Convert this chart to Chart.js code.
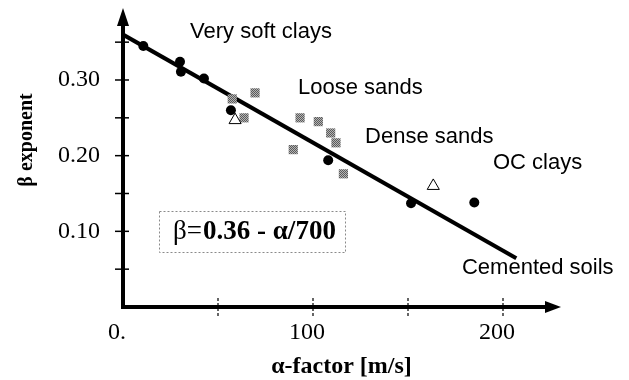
<!DOCTYPE html>
<html>
<head>
<meta charset="utf-8">
<script src="https://cdn.jsdelivr.net/npm/chart.js@4.4.1/dist/chart.umd.min.js"></script>
<style>
  html, body { margin: 0; padding: 0; background: #fff; }
  #wrap { width: 629px; height: 380px; }
</style>
</head>
<body>
<div id="wrap"><canvas id="c" width="629" height="380"></canvas></div>
<script>
// Measured β exponent against α-factor for several soil groups
const circleAlpha = [10.7, 30.0, 30.5, 42.6, 56.8, 108.0, 151.6, 184.9];
const circleBeta  = [0.345, 0.324, 0.311, 0.302, 0.260, 0.194, 0.137, 0.138];

const squareAlpha = [57.5, 69.5, 63.7, 89.6, 93.2, 102.8, 109.3, 112.1, 116.0];
const squareBeta  = [0.275, 0.283, 0.250, 0.208, 0.250, 0.245, 0.230, 0.217, 0.176];

const triangleAlpha = [59.0, 163.3];
const triangleBeta  = [0.247, 0.160];

// Fitted relation β = 0.36 - α/700
const fitIntercept = 0.36;
const fitDivisor = 700;
const fitAlpha = [0, 207];
const fitBeta = fitAlpha.map(a => fitIntercept - a / fitDivisor);

// Axis ticks
const xTickValues = [0, 100, 200];
const xTickLabels = ['0.', '100', '200'];
const xMarkValues = [50, 100, 150, 200];
const yTickValues = [0.10, 0.20, 0.30];
const yTickLabels = ['0.10', '0.20', '0.30'];
const yMarkValues = [0.05, 0.10, 0.15, 0.20, 0.25, 0.30, 0.35];

// Soil group captions (anchored in data units: left edge, vertical centre)
const groupNames = ['Very soft clays', 'Loose sands', 'Dense sands', 'OC clays', 'Cemented soils'];
const groupAlpha = [35.3, 92.1, 127.4, 194.7, 178.4];
const groupBeta  = [0.363, 0.289, 0.225, 0.190, 0.052];

const SERIF = '"Liberation Serif", "Times New Roman", serif';
const SANS = '"Liberation Sans", Arial, sans-serif';

function pts(xs, ys) { return xs.map((x, i) => ({ x: x, y: ys[i] })); }

// Speckled grey fill for the sand markers
function speckle() {
  const c = document.createElement('canvas');
  c.width = 2; c.height = 2;
  const g = c.getContext('2d');
  g.fillStyle = '#b4b4b4'; g.fillRect(0, 0, 2, 2);
  g.fillStyle = '#5a5a5a'; g.fillRect(0, 0, 1, 1); g.fillRect(1, 1, 1, 1);
  return document.getElementById('c').getContext('2d').createPattern(c, 'repeat');
}

// keep the plot area exactly where the layout padding puts it
function noEdgePadding(s) {
  s.paddingTop = 0; s.paddingBottom = 0; s.paddingLeft = 0; s.paddingRight = 0;
}

const axesPlugin = {
  id: 'axesAndNotes',
  afterDatasetsDraw(chart) {
    const { ctx, scales: { x, y } } = chart;
    const x0 = x.getPixelForValue(0);
    const y0 = y.getPixelForValue(0);
    const xEnd = chart.chartArea.right;
    const yTop = chart.chartArea.top;
    ctx.save();
    ctx.strokeStyle = '#000';
    ctx.fillStyle = '#000';

    // tick marks on the vertical axis
    ctx.lineWidth = 1.5;
    yMarkValues.forEach(v => {
      const py = y.getPixelForValue(v);
      ctx.beginPath(); ctx.moveTo(x0 - 8, py); ctx.lineTo(x0 + 6, py); ctx.stroke();
    });
    // tick marks on the horizontal axis
    ctx.lineWidth = 1.2;
    ctx.setLineDash([3, 2]);
    xMarkValues.forEach(v => {
      const px = x.getPixelForValue(v);
      ctx.beginPath(); ctx.moveTo(px, y0 - 9); ctx.lineTo(px, y0 + 11); ctx.stroke();
    });
    ctx.setLineDash([]);

    // axis lines with arrow heads
    ctx.lineWidth = 4;
    ctx.lineCap = 'butt';
    ctx.beginPath();
    ctx.moveTo(x0, yTop + 14);
    ctx.lineTo(x0, y0);
    ctx.lineTo(xEnd - 12, y0);
    ctx.stroke();
    ctx.beginPath();
    ctx.moveTo(x0, yTop - 2); ctx.lineTo(x0 - 6, yTop + 16); ctx.lineTo(x0 + 6, yTop + 16); ctx.closePath();
    ctx.fill();
    ctx.beginPath();
    ctx.moveTo(xEnd + 1, y0); ctx.lineTo(xEnd - 15, y0 - 6); ctx.lineTo(xEnd - 15, y0 + 6); ctx.closePath();
    ctx.fill();

    // vertical axis title
    ctx.save();
    ctx.translate(27, 140);
    ctx.rotate(-Math.PI / 2);
    ctx.font = 'bold 20px ' + SERIF;
    ctx.textAlign = 'center';
    ctx.textBaseline = 'middle';
    ctx.fillText('β exponent', 0, 0);
    ctx.restore();

    // soil group captions
    ctx.font = '22px ' + SANS;
    ctx.textAlign = 'left';
    ctx.textBaseline = 'middle';
    groupNames.forEach((name, i) => {
      ctx.fillText(name, x.getPixelForValue(groupAlpha[i]), y.getPixelForValue(groupBeta[i]));
    });

    // equation box
    const bl = x.getPixelForValue(19), br = x.getPixelForValue(116.8);
    const bt = y.getPixelForValue(0.127), bb = y.getPixelForValue(0.073);
    ctx.strokeStyle = '#8a8a8a';
    ctx.lineWidth = 1;
    ctx.setLineDash([2, 2]);
    ctx.strokeRect(Math.round(bl) + 0.5, Math.round(bt) + 0.5, Math.round(br - bl), Math.round(bb - bt));
    ctx.setLineDash([]);
    const ty = (bt + bb) / 2 + 1;
    let tx = bl + 14;
    ctx.fillStyle = '#000';
    ctx.font = '27px ' + SERIF;
    ctx.fillText('β=', tx, ty);
    tx += ctx.measureText('β=').width + 1;
    ctx.font = 'bold 27px ' + SERIF;
    ctx.fillText('0.36 - α/' + fitDivisor, tx, ty);
    ctx.restore();
  }
};

const chart = new Chart(document.getElementById('c'), {
  type: 'scatter',
  data: {
    datasets: [
      {
        type: 'line',
        data: pts(fitAlpha, fitBeta),
        borderColor: '#000',
        borderWidth: 4,
        pointRadius: 0,
        fill: false,
        order: 3
      },
      {
        data: pts(circleAlpha, circleBeta),
        pointStyle: 'circle',
        pointRadius: 5,
        backgroundColor: '#000',
        borderColor: '#000',
        borderWidth: 0,
        order: 2
      },
      {
        data: pts(squareAlpha, squareBeta),
        pointStyle: 'rect',
        pointRadius: 6.5,
        backgroundColor: speckle(),
        borderWidth: 0,
        order: 1
      },
      {
        data: pts(triangleAlpha, triangleBeta),
        pointStyle: 'triangle',
        pointRadius: 7,
        backgroundColor: '#fff',
        borderColor: '#000',
        borderWidth: 1,
        order: 0
      }
    ]
  },
  options: {
    responsive: false,
    animation: false,
    events: [],
    layout: { padding: { top: 10, right: 69, left: 0, bottom: 0 } },
    plugins: { legend: { display: false }, tooltip: { enabled: false } },
    scales: {
      x: {
        type: 'linear',
        min: 0,
        max: 230,
        grid: { display: false, drawTicks: false },
        border: { display: false },
        afterFit(s) { s.height = 73; noEdgePadding(s); },
        afterBuildTicks(s) { s.ticks = xTickValues.map(v => ({ value: v })); },
        ticks: {
          callback: (v, i) => xTickLabels[i],
          font: { family: SERIF, size: 24, lineHeight: 1.2 },
          color: '#000',
          padding: 11,
          labelOffset: -6,
          maxRotation: 0,
          autoSkip: false
        },
        title: {
          display: true,
          text: 'α-factor [m/s]',
          color: '#000',
          font: { family: SERIF, size: 24, weight: 'bold', lineHeight: 1 },
          padding: { top: 0, bottom: 1 }
        }
      },
      y: {
        type: 'linear',
        min: 0,
        max: 0.3925,
        grid: { display: false, drawTicks: false },
        border: { display: false },
        afterFit(s) { s.width = 123; noEdgePadding(s); },
        afterBuildTicks(s) { s.ticks = yTickValues.map(v => ({ value: v })); },
        ticks: {
          callback: (v, i) => yTickLabels[i],
          font: { family: SERIF, size: 24 },
          color: '#000',
          padding: 23,
          autoSkip: false
        }
      }
    }
  },
  plugins: [axesPlugin]
});
</script>
</body>
</html>
